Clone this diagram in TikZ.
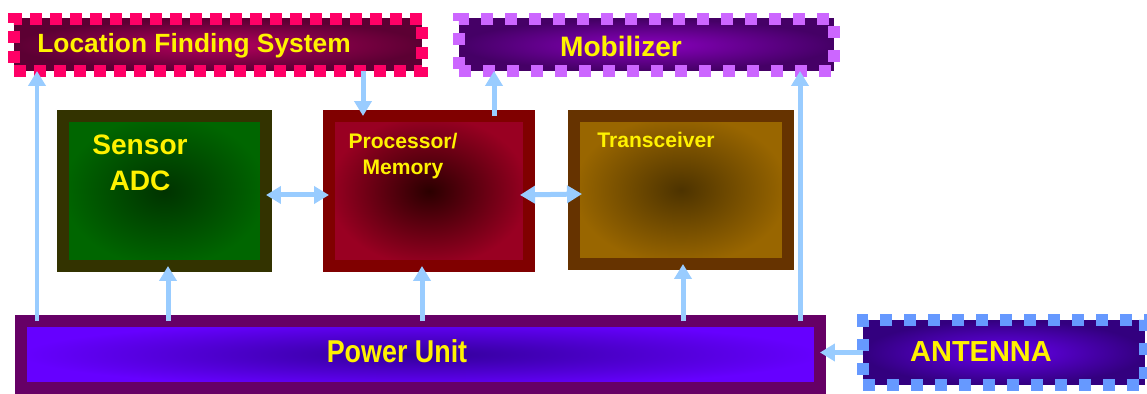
\documentclass[tikz,border=0pt]{standalone}
\usepackage{fontspec}
\setmainfont{Liberation Sans}
\newfontfamily\narrowsans[FakeStretch=0.85]{Liberation Sans}
\usetikzlibrary{arrows.meta}

\definecolor{flowblue}{HTML}{99CCFF}
\definecolor{lfsdash}{HTML}{FF0066}
\definecolor{mobdash}{HTML}{CC66FF}
\definecolor{antdash}{HTML}{6699FF}
\definecolor{lfsin}{HTML}{B3005E}
\definecolor{lfsout}{HTML}{5C0033}
\definecolor{mobin}{HTML}{8A00BF}
\definecolor{mobout}{HTML}{450066}
\definecolor{sensrim}{HTML}{333300}
\definecolor{sensin}{HTML}{003300}
\definecolor{sensout}{HTML}{006600}
\definecolor{procrim}{HTML}{800000}
\definecolor{procin}{HTML}{2B0000}
\definecolor{procout}{HTML}{990022}
\definecolor{transrim}{HTML}{663300}
\definecolor{transin}{HTML}{4D3300}
\definecolor{transout}{HTML}{996600}
\definecolor{powrim}{HTML}{660066}
\definecolor{powin}{HTML}{330099}
\definecolor{powout}{HTML}{6600FF}
\definecolor{antin}{HTML}{6600EE}
\definecolor{antout}{HTML}{33007F}

\tikzset{
	block/.style={draw, line width=0.24cm, inner sep=0pt, outer sep=0pt},
	dashbox/.style={draw, line width=0.24cm, inner sep=0pt, outer sep=0pt, dash pattern=on 0.24cm off 0.24cm},
	lbl/.style={text=yellow, font=\bfseries, inner sep=0pt},
	flow/.style={->, draw=flowblue, line width=0.1cm},
	dflow/.style={<->, draw=flowblue, line width=0.1cm}
}

\begin{document}
\begin{tikzpicture}[x=0.02cm, y=-0.02cm, >={Triangle[length=0.3cm,width=0.34cm]}]
	\useasboundingbox (0,0) rectangle (1147,394);
	
	% top row
	\node[dashbox, draw=lfsdash, dash pattern=on 0.24cm off 0.16cm, inner color=lfsin, outer color=lfsout,
		minimum width=8.16cm, minimum height=1.04cm] (lfs) at (218,45) {};
	\node[dashbox, draw=mobdash, inner color=mobin, outer color=mobout,
		minimum width=7.5cm, minimum height=1.04cm] (mob) at (646.5,45) {};
	
	% middle row
	\node[block, draw=sensrim, inner color=sensin, outer color=sensout,
		minimum width=4.06cm, minimum height=3cm] (sensor) at (164.5,191) {};
	\node[block, draw=procrim, inner color=procin, outer color=procout,
		minimum width=4cm, minimum height=3cm] (proc) at (429,191) {};
	\node[block, draw=transrim, inner color=transin, outer color=transout,
		minimum width=4.28cm, minimum height=2.96cm] (trans) at (681,190) {};
	
	% bottom row
	\node[block, draw=powrim, inner color=powin, outer color=powout,
		minimum width=15.98cm, minimum height=1.34cm] (power) at (420.5,354.5) {};
	\node[dashbox, draw=antdash, inner color=antin, outer color=antout,
		minimum width=5.64cm, minimum height=1.3cm] (ant) at (1004,352.5) {};
	
	% labels
	\node[lbl, anchor=base west, font=\fontsize{15}{18}\selectfont\bfseries] (lfslbl) at (37,53) {Location Finding System};
	\node[lbl, anchor=base, font=\fontsize{16}{19}\selectfont\bfseries] (moblbl) at (621,57) {Mobilizer};
	\node[lbl, anchor=north, align=center, font=\fontsize{16}{20.5}\selectfont\bfseries] (sensorlbl) at (140,135) {Sensor\\ADC};
	\node[lbl, anchor=north, align=center, font=\fontsize{12}{14.8}\selectfont\bfseries] (proclbl) at (403,133) {Processor/\\Memory};
	\node[lbl, anchor=base, font=\fontsize{12}{14}\selectfont\bfseries] (translbl) at (656,148) {Transceiver};
	\node[lbl, anchor=base, font=\fontsize{18}{21}\selectfont\narrowsans\bfseries] (powerlbl) at (397,363) {Power Unit};
	\node[lbl, anchor=base, font=\fontsize{16.5}{19}\selectfont\bfseries] (antlbl) at (981,362) {ANTENNA};
	
	% power feeds
	\foreach \x/\dst in {37/lfs, 168/sensor, 422/proc, 683/trans, 800/mob}
	\draw[flow] (power.north -| \x,0) -- (\dst.south -| \x,0);
	
	\draw[flow] (lfs.south -| 363,0) -- (proc.north -| 363,0);
	\draw[flow] (proc.north -| 494,0) -- (mob.south -| 494,0);
	\draw[dflow] ([yshift=-0.08cm]sensor.east) -- ([yshift=-0.08cm]proc.west);
	\draw[dflow] ([xshift=-0.18cm, yshift=-0.08cm]proc.east) -- ([xshift=0.16cm, yshift=-0.08cm]trans.west);
	\draw[flow] (ant.west) -- (power.east |- ant.west);
\end{tikzpicture}
\end{document}
